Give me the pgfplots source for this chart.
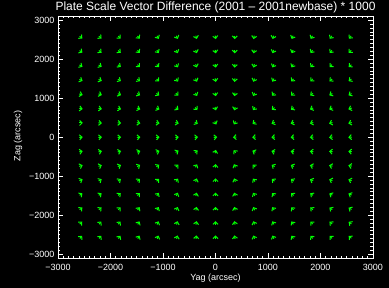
\documentclass[border=0pt]{standalone}
\usepackage{fontspec}
\setmainfont{Liberation Sans}
\usepackage{pgfplots}
\usepackage{pgfplotstable}
\pgfplotsset{compat=1.18}
\usetikzlibrary{arrows.meta}
\pgfplotstableread{
x y u v
-2562 2562 66 -74
-2196 2562 66 -74
-1830 2562 61 -82
-1464 2562 55 -88
-1098 2562 43 -100
-732 2562 36 -105
-366 2562 22 -111
0 2562 15 -114
366 2562 0 -115
732 2562 -15 -114
1098 2562 -22 -111
1464 2562 -36 -105
1830 2562 -43 -100
2196 2562 -49 -95
2562 2562 -55 -88
-2562 2196 70 -66
-2196 2196 66 -74
-1830 2196 66 -74
-1464 2196 55 -88
-1098 2196 49 -95
-732 2196 36 -105
-366 2196 29 -108
0 2196 15 -114
366 2196 0 -115
732 2196 -15 -114
1098 2196 -29 -108
1464 2196 -36 -105
1830 2196 -49 -95
2196 2196 -55 -88
2562 2196 -61 -82
-2562 1830 74 -58
-2196 1830 74 -58
-1830 1830 70 -66
-1464 1830 61 -82
-1098 1830 55 -88
-732 1830 43 -100
-366 1830 29 -108
0 1830 15 -114
366 1830 -7 -115
732 1830 -22 -111
1098 1830 -36 -105
1464 1830 -43 -100
1830 1830 -55 -88
2196 1830 -61 -82
2562 1830 -66 -74
-2562 1464 78 -49
-2196 1464 78 -49
-1830 1464 74 -58
-1464 1464 70 -66
-1098 1464 61 -82
-732 1464 49 -95
-366 1464 36 -105
0 1464 15 -114
366 1464 -7 -115
732 1464 -29 -108
1098 1464 -43 -100
1464 1464 -55 -88
1830 1464 -61 -82
2196 1464 -66 -74
2562 1464 -70 -66
-2562 1098 83 -30
-2196 1098 81 -39
-1830 1098 78 -49
-1464 1098 74 -58
-1098 1098 70 -66
-732 1098 61 -82
-366 1098 43 -100
0 1098 15 -114
366 1098 -15 -114
732 1098 -36 -105
1098 1098 -55 -88
1464 1098 -61 -82
1830 1098 -70 -66
2196 1098 -74 -58
2562 1098 -74 -58
-2562 732 84 -20
-2196 732 84 -20
-1830 732 83 -30
-1464 732 81 -39
-1098 732 78 -49
-732 732 70 -66
-366 732 55 -88
0 732 22 -111
366 732 -22 -111
732 732 -49 -95
1098 732 -66 -74
1464 732 -70 -66
1830 732 -78 -49
2196 732 -78 -49
2562 732 -81 -39
-2562 366 86 0
-2196 366 85 -10
-1830 366 85 -10
-1464 366 84 -20
-1098 366 84 -20
-732 366 83 -30
-366 366 74 -58
0 366 36 -105
366 366 -43 -100
732 366 -70 -66
1098 366 -78 -49
1464 366 -81 -39
1830 366 -83 -30
2196 366 -83 -30
2562 366 -83 -30
-2562 0 85 10
-2196 0 85 10
-1830 0 85 10
-1464 0 85 10
-1098 0 85 10
-732 0 85 10
-366 0 85 10
0 0 85 10
366 0 -85 -10
732 0 -85 -10
1098 0 -85 -10
1464 0 -85 -10
1830 0 -85 -10
2196 0 -85 -10
2562 0 -85 -10
-2562 -366 84 20
-2196 -366 83 30
-1830 -366 83 30
-1464 -366 81 39
-1098 -366 81 39
-732 -366 74 58
-366 -366 66 74
0 -366 22 111
366 -366 -55 88
732 -366 -78 49
1098 -366 -83 30
1464 -366 -84 20
1830 -366 -85 10
2196 -366 -85 10
2562 -366 -85 10
-2562 -732 81 39
-2196 -732 81 39
-1830 -732 78 49
-1464 -732 74 58
-1098 -732 70 66
-732 -732 61 82
-366 -732 43 100
0 -732 7 115
366 -732 -36 105
732 -732 -61 82
1098 -732 -74 58
1464 -732 -78 49
1830 -732 -83 30
2196 -732 -83 30
2562 -732 -84 20
-2562 -1098 78 49
-2196 -1098 74 58
-1830 -1098 70 66
-1464 -1098 66 74
-1098 -1098 61 82
-732 -1098 49 95
-366 -1098 29 108
0 -1098 0 115
366 -1098 -29 108
732 -1098 -49 95
1098 -1098 -66 74
1464 -1098 -70 66
1830 -1098 -78 49
2196 -1098 -81 39
2562 -1098 -81 39
-2562 -1464 70 66
-2196 -1464 70 66
-1830 -1464 66 74
-1464 -1464 61 82
-1098 -1464 49 95
-732 -1464 36 105
-366 -1464 22 111
0 -1464 0 115
366 -1464 -22 111
732 -1464 -43 100
1098 -1464 -55 88
1464 -1464 -66 74
1830 -1464 -70 66
2196 -1464 -74 58
2562 -1464 -78 49
-2562 -1830 66 74
-2196 -1830 66 74
-1830 -1830 61 82
-1464 -1830 49 95
-1098 -1830 43 100
-732 -1830 29 108
-366 -1830 15 114
0 -1830 0 115
366 -1830 -22 111
732 -1830 -36 105
1098 -1830 -49 95
1464 -1830 -55 88
1830 -1830 -66 74
2196 -1830 -70 66
2562 -1830 -74 58
-2562 -2196 61 82
-2196 -2196 55 88
-1830 -2196 55 88
-1464 -2196 43 100
-1098 -2196 36 105
-732 -2196 22 111
-366 -2196 15 114
0 -2196 0 115
366 -2196 -15 114
732 -2196 -29 108
1098 -2196 -43 100
1464 -2196 -49 95
1830 -2196 -61 82
2196 -2196 -66 74
2562 -2196 -70 66
-2562 -2562 55 88
-2196 -2562 55 88
-1830 -2562 49 95
-1464 -2562 43 100
-1098 -2562 29 108
-732 -2562 22 111
-366 -2562 7 115
0 -2562 0 115
366 -2562 -15 114
732 -2562 -29 108
1098 -2562 -36 105
1464 -2562 -49 95
1830 -2562 -55 88
2196 -2562 -61 82
2562 -2562 -66 74
}\vecdata
\begin{document}
\begin{tikzpicture}
\fill[black] (0pt,0pt) rectangle (389pt,288pt);
\useasboundingbox (0pt,0pt) rectangle (389pt,288pt);
\begin{axis}[
  at={(58pt,29.5pt)}, anchor=south west,
  scale only axis, width=315pt, height=242.5pt,
  xmin=-3000, xmax=3000, ymin=-3110, ymax=3110,
  axis line style={white, line width=0.8pt},
  xtick={-3000,-2000,...,3000}, ytick={-3000,-2000,...,3000},
  xticklabels={−3000,−2000,−1000,0,1000,2000,3000},
  yticklabels={−3000,−2000,−1000,0,1000,2000,3000},
  minor xtick={-2900,-2800,...,2900},
  minor ytick={-3100,-3000,...,3100},
  tick align=inside,
  major tick length=5pt, minor tick length=2.5pt,
  tick style={white, line width=0.8pt},
  tick label style={white, font=\fontsize{9}{10}\selectfont},
  xticklabel style={yshift=-2pt},
]
\addplot[green, line width=1pt,
  -{Straight Barb[length=2.5pt,width=5pt]},
  shorten <=-1.75pt, shorten >=2.75pt,
  quiver={u=\thisrow{u}, v=\thisrow{v}}]
  table[x=x, y=y] {\vecdata};
\end{axis}
\node[white, font=\fontsize{12}{14}\selectfont] at (215.5pt,281pt) {Plate Scale Vector Difference (2001 -- 2001newbase) * 1000};
\node[white, font=\fontsize{9}{10}\selectfont] at (215.5pt,10pt) {Yag (arcsec)};
\node[white, rotate=90, font=\fontsize{9}{10}\selectfont] at (18pt,152pt) {Zag (arcsec)};
\end{tikzpicture}
\end{document}
